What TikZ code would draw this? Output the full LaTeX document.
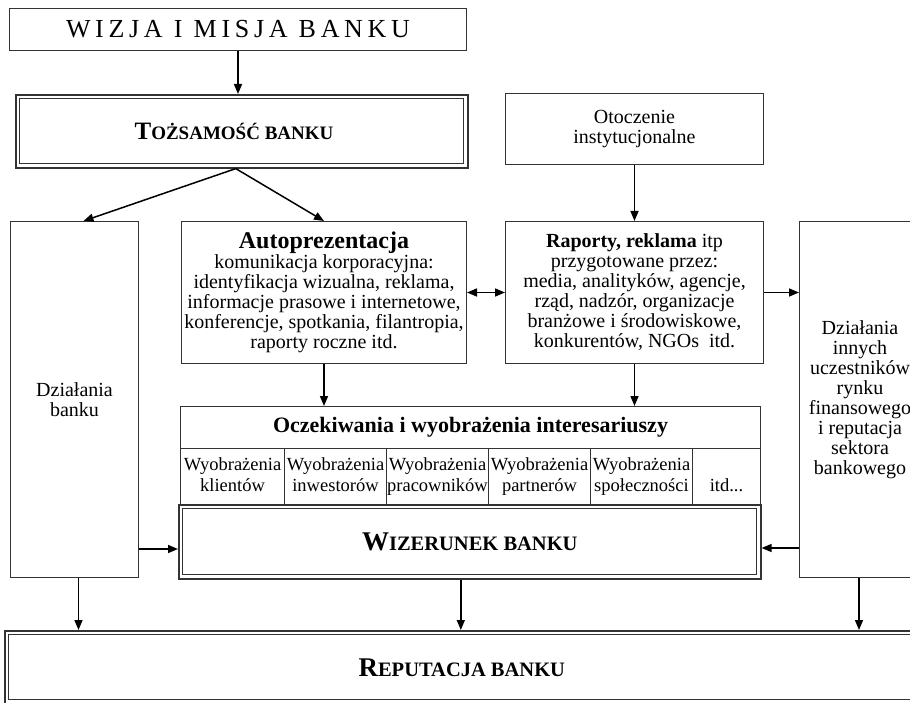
\documentclass[tikz,border=0pt]{standalone}
\usepackage{fontspec}
\setmainfont{Liberation Serif}
\usetikzlibrary{arrows.meta,calc}

\newcommand{\bodyfont}{\fontsize{20}{20}\selectfont}
\newcommand{\cellfont}{\fontsize{18.5}{21}\selectfont}
% bold titles with a large initial and smaller capitals after it
\newcommand{\smcap}[2]{{\fontsize{25}{25}\selectfont #1}{\fontsize{19}{19}\selectfont #2}}
\newcommand{\wideCapTitle}[2]{{\fontsize{27}{27}\selectfont #1}{\fontsize{20.5}{20.5}\selectfont #2}}
% two-line table cell with equal line heights
\newcommand{\twolines}[2]{#1\strut\\#2\strut}

\begin{document}
\begin{tikzpicture}[x=1pt,y=-1pt,
  box/.style={draw=black!80, line width=1pt, fill=white, anchor=north west,
    inner sep=0pt, align=center, font=\bodyfont},
  cell/.style={box, font=\cellfont, minimum height=56},
  dbl/.style={box, line width=1.6pt,
    path picture={\draw[line width=1pt, draw=black!80]
      ([shift={(4pt,-4pt)}]path picture bounding box.north west) rectangle
      ([shift={(-4pt,4pt)}]path picture bounding box.south east);}},
  titlefont/.style={font=\bfseries},
  arr/.style={line width=1.5pt, -{Triangle[length=10pt,width=8pt]}},
  darr/.style={line width=1.5pt, {Triangle[length=10pt,width=8pt]}-{Triangle[length=10pt,width=8pt]}},
]
\useasboundingbox (0,0) rectangle (910,703);
\fill[white] (0,0) rectangle (910,703);
\clip (0,0) rectangle (910,703);

% top of the scheme
\node[box, font=\fontsize{26}{26}\selectfont\addfontfeature{LetterSpace=18},
  minimum width=457, minimum height=42] (wizja) at (9,8) {WIZJA I MISJA BANKU};
\node[dbl, minimum width=452, minimum height=73] (tozs) at (15,94) {};
\node[titlefont] (tozst) at (234,131) {\smcap{T}{OŻSAMOŚĆ BANKU}};
\node[box, minimum width=258, minimum height=71] (otocz) at (505,93)
  {Otoczenie\\instytucjonalne};

% middle row
\node[box, minimum width=128, minimum height=356] (dzb) at (10,221)
  {Działania\\banku};
\node[box, minimum width=285, minimum height=142] (auto) at (181,221)
  {{\fontsize{24}{21}\selectfont\bfseries Autoprezentacja}\\
   komunikacja korporacyjna:\\
   identyfikacja wizualna, reklama,\\
   informacje prasowe i internetowe,\\
   konferencje, spotkania, filantropia,\\
   raporty roczne itd.};
\node[box, minimum width=258, minimum height=142] (rap) at (505,221)
  {\textbf{Raporty, reklama} itp\\
   przygotowane przez:\\
   media, analityków, agencje,\\
   rząd, nadzór, organizacje\\
   branżowe i środowiskowe,\\
   konkurentów, NGOs~ itd.};
\node[box, minimum width=121, minimum height=356] (inni) at (799,221)
  {Działania\\innych\\uczestników\\rynku\\finansowego\\i reputacja\\sektora\\bankowego};

% stakeholders table
\node[box, minimum width=580, minimum height=42, font=\fontsize{22}{22}\selectfont\bfseries]
  (ocz) at (180,406) {Oczekiwania i wyobrażenia interesariuszy};
\node[cell, minimum width=104] (c1) at (180,448) {\twolines{Wyobrażenia}{klientów}};
\node[cell, minimum width=102] (c2) at (284,448) {\twolines{Wyobrażenia}{inwestorów}};
\node[cell, minimum width=102] (c3) at (386,448) {\twolines{Wyobrażenia}{pracowników}};
\node[cell, minimum width=102] (c4) at (488,448) {\twolines{Wyobrażenia}{partnerów}};
\node[cell, minimum width=102] (c5) at (590,448) {\twolines{Wyobrażenia}{społeczności}};
\node[cell, minimum width=68] (c6) at (692,448) {\twolines{}{itd...}};

% image and reputation
\node[dbl, minimum width=582, minimum height=74, titlefont] (wiz) at (178,504)
  {\wideCapTitle{W}{IZERUNEK BANKU}};
\node[dbl, minimum width=914, minimum height=73, titlefont] (rep) at (4,630)
  {\wideCapTitle{R}{EPUTACJA BANKU}};

% connectors
\coordinate (tsplit) at ([xshift=-6pt]tozs.south);
\coordinate (dztop) at ([xshift=9pt]dzb.north);
\coordinate (dzright) at ([yshift=29pt]dzb.south east);
\coordinate (inleft) at ([yshift=30pt]inni.south west);
\coordinate (dzdown) at ([xshift=4pt]dzb.south);
\coordinate (wizdown) at ([xshift=-9pt]wiz.south);
\coordinate (indown) at ([xshift=-1pt]inni.south);

\draw[arr] (wizja.south) -- (wizja.south |- tozs.north);
\draw[arr] (tsplit) -- (dztop);
\draw[arr] (tsplit) -- (auto.north);
\draw[arr] (otocz.south) -- (rap.north);
\draw[darr] (auto.east) -- (rap.west);
\draw[arr] (rap.east) -- (rap.east -| inni.west);
\draw[arr] (auto.south) -- (auto.south |- ocz.north);
\draw[arr] (rap.south) -- (rap.south |- ocz.north);
\draw[arr] (dzright) -- (dzright -| wiz.west);
\draw[arr] (inleft) -- (inleft -| wiz.east);
\draw[arr] (dzdown) -- (dzdown |- rep.north);
\draw[arr] (wizdown) -- (wizdown |- rep.north);
\draw[arr] (indown) -- (indown |- rep.north);
\end{tikzpicture}
\end{document}
